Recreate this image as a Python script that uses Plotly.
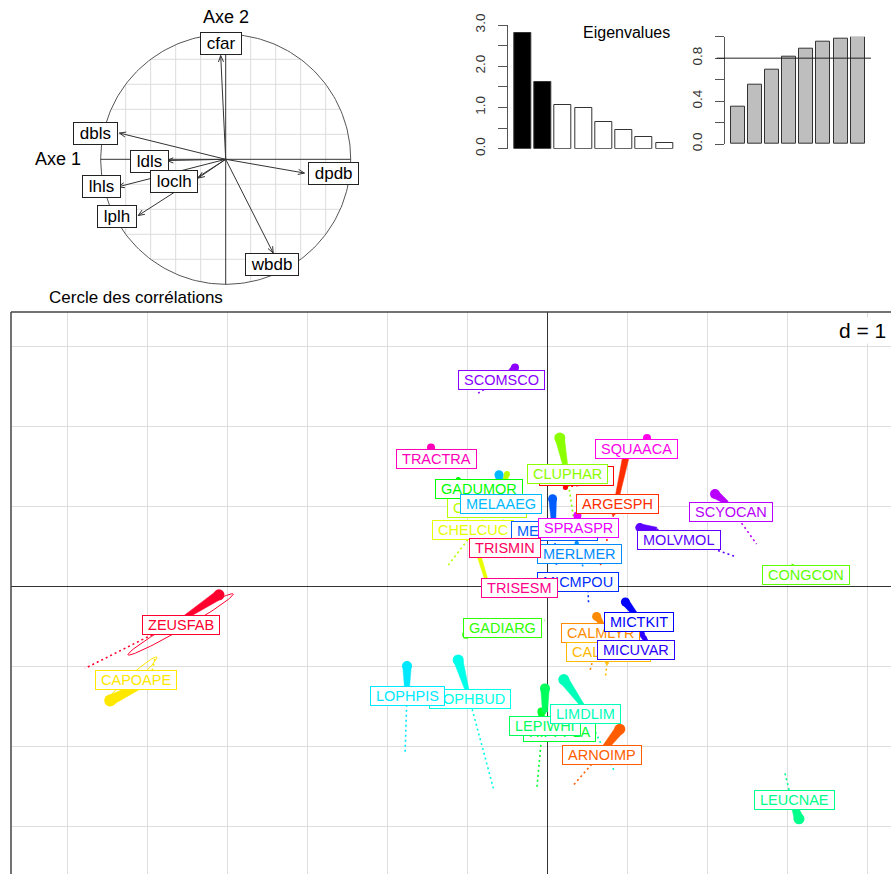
import math
import colorsys
import numpy as np
import plotly.graph_objects as go

W, H = 891, 874

# ---------------- correlation circle (variables) ----------------
var_names = ["cfar", "dbls", "ldls", "loclh", "lhls", "lplh", "dpdb", "wbdb"]
var_x = [-0.04, -0.85, -0.47, -0.22, -0.86, -0.70, 0.63, 0.38]
var_y = [0.83, 0.21, -0.01, -0.15, -0.22, -0.45, -0.11, -0.75]
var_lab_x = [-0.04, -1.04, -0.61, -0.41, -0.99, -0.87, 0.86, 0.37]
var_lab_y = [0.93, 0.21, -0.02, -0.18, -0.22, -0.46, -0.11, -0.84]

# ---------------- eigenvalues ----------------
eigenvalues = [2.80, 1.62, 1.07, 0.98, 0.64, 0.46, 0.29, 0.14]
cum_inertia = [0.35, 0.55, 0.69, 0.81, 0.89, 0.95, 0.98, 1.00]
n_kept = 2

# ---------------- species trajectories on the factorial plane ----------------
species = ["ARGESIL", "ARGESPH", "ARNOIMP", "CALMLYR", "CALMMAC", "CAPOAPE",
           "CHELCUC", "CHELLUC", "CLUPHAR", "CONGCON", "GADIARG", "GADUMOR",
           "HIPPPLA", "LEPIWHI", "LEUCNAE", "LIMDLIM", "LOPHBUD", "LOPHPIS",
           "MELAAEG", "MERLMER", "MERNMER", "MICMPOU", "MICTKIT", "MICUVAR",
           "MOLVMOL", "SCOMSCO", "SCYOCAN", "SPRASPR", "SQUAACA", "TRACTRA",
           "TRISESM", "TRISMIN", "ZEUSFAB"]
head_x = [0.23, 1.00, 0.91, 0.62, 0.75, -5.46, -0.89, -0.50, 0.16, 3.07, -1.01, -1.11,
          -0.07, -0.025, 3.15, 0.21, -1.11, -1.75, -0.60, 0.37, 0.07, 0.51, 0.98, 1.175,
          1.16, -0.40, 2.10, 0.38, 1.25, -1.45, -0.40, -0.59, -4.10]
head_y = [1.23, 1.68, -1.79, -0.38, -0.83, -1.43, 0.51, 1.40, 1.85, 0.26, -0.61, 1.33,
          -1.57, -1.28, -2.91, -1.17, -0.925, -1.00, 1.39, 0.54, 1.09, 0.075, -0.20, -0.59,
          0.73, 2.73, 1.15, 0.88, 1.85, 1.73, 0.01, 0.51, -0.11]
neck_x = [0.24, 0.83, 0.60, 0.69, 0.75, -4.96, -0.75, -0.61, 0.24, 3.07, -0.96, -1.025,
          -0.06, -0.025, 3.04, 0.44, -1.00, -1.75, -0.575, 0.39, 0.08, 0.51, 1.10, 1.24,
          1.37, -0.525, 2.25, 0.39, 1.225, -1.39, -0.36, -0.55, -4.60]
neck_y = [1.24, 0.89, -2.18, -0.48, -0.97, -1.18, 0.05, 1.075, 1.45, 0.255, -0.59, 1.26,
          -1.80, -1.575, -2.61, -1.49, -1.30, -1.36, 1.14, 0.45, 0.85, 0.01, -0.35, -0.69,
          0.71, 2.625, 1.04, 0.80, 1.75, 1.60, -0.01, 0.49, -0.44]
tail_x = [0.75, 0.66, 0.33, 0.54, 0.73, -4.90, -0.725, -1.25, 0.33, 3.075, -0.03, -0.86,
          -0.125, -0.025, 2.975, 0.84, -0.67, -1.775, -0.55, 0.45, 0.12, 0.52, 1.25, 1.16,
          2.35, -0.86, 2.62, 0.39, 1.20, -1.325, -0.275, -0.46, -5.775]
tail_y = [1.30, 0.23, -2.49, -1.05, -1.14, -0.90, -0.05, 0.24, 0.87, 0.24, -0.43, 1.175,
          -2.51, -1.70, -2.34, -2.31, -2.53, -2.11, 0.825, 0.24, 0.24, -0.22, -0.675, -0.825,
          0.37, 2.41, 0.525, 0.70, 1.625, 1.44, -0.05, 0.425, -1.03]
label_x = [0.37, 0.875, 0.69, 0.67, 0.77, -5.14, -0.93, -0.75, 0.25, 3.24, -0.56, -0.85,
           0.15, -0.02, 3.09, 0.48, -0.96, -1.75, -0.57, 0.41, 0.09, 0.39, 1.15, 1.11,
           1.65, -0.57, 2.30, 0.39, 1.12, -1.385, -0.34, -0.525, -4.58]
label_y = [1.37, 1.02, -2.11, -0.585, -0.83, -1.17, 0.70, 0.97, 1.40, 0.14, -0.53, 1.215,
           -1.83, -1.75, -2.68, -1.60, -1.41, -1.38, 1.03, 0.40, 0.69, 0.05, -0.45, -0.80,
           0.57, 2.575, 0.925, 0.73, 1.715, 1.585, -0.02, 0.48, -0.49]
# marker diameter at the head and width of the trail where it thins out (pixels)
head_size = [5, 8, 11, 9, 5, 12, 5, 6, 11, 3, 8, 5, 8, 10, 11, 11, 11, 10, 9, 4, 9, 4,
             9, 6, 9, 8, 10, 8, 8, 8, 4, 4, 11]
neck_width = [2, 3, 4, 4, 3, 5, 3, 2, 4, 1, 2, 2, 3, 5, 3, 4, 4, 4, 3, 2, 5, 2,
              5, 4, 4, 2, 4, 3, 3, 2, 2, 2, 3]

# dispersion ellipses
ell_species = ["ZEUSFAB", "CAPOAPE"]
ell_cx = [-4.58, -5.19]
ell_cy = [-0.48, -1.17]
ell_a = [0.76, 0.42]
ell_b = [0.06, 0.05]
ell_angle = [30, 42]

# rainbow palette, one hue per species in alphabetical order
n_sp = len(species)
colors = []
for i in range(n_sp):
    r, g, b = colorsys.hsv_to_rgb(i / n_sp, 1, 1)
    colors.append("#%02X%02X%02X" % (round(r * 255), round(g * 255), round(b * 255)))

FONT = "Liberation Sans, Arial, sans-serif"

# ---------------- layout geometry ----------------
main_left, main_top = 11, 312
main_xrange = [-6.7, 4.3]
main_yrange = [-3.6, 3.425]
px_per_unit = (W - main_left) / (main_xrange[1] - main_xrange[0])


def pxx(p):
    return p / W


def pxy(p):
    return 1 - p / H


fig = go.Figure()

# ----- main plane: trails, heads -----
for i, name in enumerate(species):
    col = colors[i]
    hx, hy = head_x[i], head_y[i]
    nx_, ny_ = neck_x[i], neck_y[i]
    dx, dy = nx_ - hx, ny_ - hy
    L = math.hypot(dx, dy)
    if L > 1e-9:
        ux, uy = -dy / L, dx / L
        rh = head_size[i] / 2 / px_per_unit * 0.85
        rn = neck_width[i] / 2 / px_per_unit
        xs = [hx + ux * rh, nx_ + ux * rn, nx_ - ux * rn, hx - ux * rh, hx + ux * rh]
        ys = [hy + uy * rh, ny_ + uy * rn, ny_ - uy * rn, hy - uy * rh, hy + uy * rh]
        fig.add_trace(go.Scatter(x=xs, y=ys, mode="lines", fill="toself", fillcolor=col,
                                 line=dict(width=0.5, color=col), hoverinfo="skip",
                                 showlegend=False, xaxis="x", yaxis="y"))
    fig.add_trace(go.Scatter(x=[nx_, tail_x[i]], y=[ny_, tail_y[i]], mode="lines",
                             line=dict(color=col, width=1.6, dash="2px,3px"),
                             hoverinfo="skip", showlegend=False, xaxis="x", yaxis="y"))
    fig.add_trace(go.Scatter(x=[hx], y=[hy], mode="markers",
                             marker=dict(size=head_size[i], color=col, line=dict(width=0)),
                             hoverinfo="skip", showlegend=False, xaxis="x", yaxis="y"))

# ----- ellipses -----
t = np.linspace(0, 2 * np.pi, 120)
for j, name in enumerate(ell_species):
    col = colors[species.index(name)]
    th = math.radians(ell_angle[j])
    ex = ell_cx[j] + ell_a[j] * np.cos(t) * math.cos(th) - ell_b[j] * np.sin(t) * math.sin(th)
    ey = ell_cy[j] + ell_a[j] * np.cos(t) * math.sin(th) + ell_b[j] * np.sin(t) * math.cos(th)
    fig.add_trace(go.Scatter(x=ex, y=ey, mode="lines", line=dict(color=col, width=1),
                             hoverinfo="skip", showlegend=False, xaxis="x", yaxis="y"))

annotations = []
for i, name in enumerate(species):
    annotations.append(dict(
        x=label_x[i], y=label_y[i], xref="x", yref="y", showarrow=False,
        text="\u00a0" + name + "\u00a0", font=dict(family=FONT, size=14.5, color=colors[i]),
        bgcolor="white", bordercolor=colors[i], borderwidth=1, borderpad=1,
        xanchor="center", yanchor="middle"))

annotations.append(dict(
    x=0.997, y=0.967, xref="x domain", yref="y domain", showarrow=False, text="d = 1",
    font=dict(family=FONT, size=21, color="black"), bgcolor="white",
    xanchor="right", yanchor="middle"))

# ----- correlation circle -----
circ_t = np.linspace(0, 2 * np.pi, 240)
grid_x, grid_y = [], []
for k in [-0.8, -0.6, -0.4, -0.2, 0.2, 0.4, 0.6, 0.8]:
    h = math.sqrt(1 - k * k)
    grid_x += [k, k, None, -h, h, None]
    grid_y += [-h, h, None, k, k, None]
fig.add_trace(go.Scatter(x=grid_x, y=grid_y, mode="lines",
                         line=dict(color="#DCDCDC", width=1), hoverinfo="skip",
                         showlegend=False, xaxis="x2", yaxis="y2"))
fig.add_trace(go.Scatter(x=np.cos(circ_t), y=np.sin(circ_t), mode="lines",
                         line=dict(color="#555555", width=1), hoverinfo="skip",
                         showlegend=False, xaxis="x2", yaxis="y2"))
fig.add_trace(go.Scatter(x=[-1, 1, None, 0, 0], y=[0, 0, None, -1, 1], mode="lines",
                         line=dict(color="#333333", width=1), hoverinfo="skip",
                         showlegend=False, xaxis="x2", yaxis="y2"))

arr_x, arr_y = [], []
head_len = 0.055
head_ang = math.radians(22)
for vx, vy in zip(var_x, var_y):
    arr_x += [0, vx, None]
    arr_y += [0, vy, None]
    ang = math.atan2(vy, vx)
    for s in (1, -1):
        a = ang + math.pi + s * head_ang
        arr_x += [vx, vx + head_len * math.cos(a), None]
        arr_y += [vy, vy + head_len * math.sin(a), None]
fig.add_trace(go.Scatter(x=arr_x, y=arr_y, mode="lines",
                         line=dict(color="#333333", width=1), hoverinfo="skip",
                         showlegend=False, xaxis="x2", yaxis="y2"))

for name, lx, ly in zip(var_names, var_lab_x, var_lab_y):
    annotations.append(dict(
        x=lx, y=ly, xref="x2", yref="y2", showarrow=False, text="\u00a0" + name + "\u00a0",
        font=dict(family=FONT, size=17, color="black"), bgcolor="white",
        bordercolor="#222222", borderwidth=1, borderpad=1,
        xanchor="center", yanchor="middle"))

annotations += [
    dict(x=-1.34, y=0.0, xref="x2", yref="y2", showarrow=False, text="Axe 1",
         font=dict(family=FONT, size=18, color="black"), xanchor="center", yanchor="middle"),
    dict(x=0.0, y=1.14, xref="x2", yref="y2", showarrow=False, text="Axe 2",
         font=dict(family=FONT, size=18, color="black"), xanchor="center", yanchor="middle"),
    dict(x=-0.72, y=-1.107, xref="x2", yref="y2", showarrow=False,
         text="Cercle des corrélations",
         font=dict(family=FONT, size=17, color="black"), xanchor="center", yanchor="middle"),
]

# ----- eigenvalue bar charts -----
ranks = list(range(1, len(eigenvalues) + 1))
fig.add_trace(go.Bar(x=ranks, y=eigenvalues, width=0.84,
                     marker=dict(color=["black" if r <= n_kept else "white" for r in ranks],
                                 line=dict(color="#333333", width=1)),
                     hoverinfo="skip", showlegend=False, xaxis="x3", yaxis="y3"))
fig.add_trace(go.Bar(x=ranks, y=cum_inertia, width=0.82,
                     marker=dict(color="#BEBEBE", line=dict(color="#333333", width=1)),
                     hoverinfo="skip", showlegend=False, xaxis="x4", yaxis="y4"))

annotations.append(dict(
    x=pxx(672), y=pxy(32.3), xref="paper", yref="paper", showarrow=False,
    text="Eigenvalues", font=dict(family=FONT, size=16, color="black"),
    xanchor="right", yanchor="middle"))

shapes = [
    # frame of the main plane (left and top edges)
    dict(type="line", xref="x domain", yref="y domain", x0=0, x1=1, y0=1, y1=1,
         line=dict(color="#444444", width=1.5), layer="above"),
    dict(type="line", xref="x domain", yref="y domain", x0=0, x1=0, y0=0, y1=1,
         line=dict(color="#444444", width=1.5), layer="above"),
    # 80 % reference line on cumulative inertia
    dict(type="line", xref="paper", yref="y4", x0=pxx(716.7), x1=pxx(871), y0=0.8, y1=0.8,
         line=dict(color="#222222", width=1), layer="above"),
]

eig_ticks = [0, 0.5, 1, 1.5, 2, 2.5, 3]
eig_text = ["0.0", "", "1.0", "", "2.0", "", "3.0"]
cum_ticks = [0, 0.2, 0.4, 0.6, 0.8, 1.0]
cum_text = ["0.0", "", "0.4", "", "0.8", ""]

bar_yaxis = dict(showline=True, linecolor="#555555", linewidth=1, ticks="outside",
                 ticklen=9, tickcolor="#555555", tickangle=-90, showgrid=False,
                 zeroline=False, tickfont=dict(family=FONT, size=13.5, color="#333333"),
                 ticklabelstandoff=8, tickmode="array", automargin=False)

fig.update_layout(
    width=W, height=H, margin=dict(l=0, r=0, t=0, b=0, pad=0, autoexpand=False),
    paper_bgcolor="white", plot_bgcolor="white", showlegend=False, hovermode=False,
    bargap=0,
    xaxis=dict(domain=[pxx(main_left), 1], range=main_xrange, tick0=0, dtick=1,
               showgrid=True, gridcolor="#DEDEDE", gridwidth=1, zeroline=True,
               zerolinecolor="#333333", zerolinewidth=1, showticklabels=False,
               ticks="", showline=False, anchor="y", automargin=False),
    yaxis=dict(domain=[0, pxy(main_top)], range=main_yrange, tick0=0, dtick=1,
               showgrid=True, gridcolor="#DEDEDE", gridwidth=1, zeroline=True,
               zerolinecolor="#333333", zerolinewidth=1, showticklabels=False,
               ticks="", showline=False, anchor="x", automargin=False),
    xaxis2=dict(domain=[pxx(25.7), pxx(425.7)], range=[-1.6, 1.6], visible=False, anchor="y2"),
    yaxis2=dict(domain=[pxy(309.3), pxy(9.3)], range=[-1.2, 1.2], visible=False, anchor="x2"),
    xaxis3=dict(domain=[pxx(508.3), pxx(678.7)], range=[0.3, 8.7], visible=False, anchor="y3"),
    yaxis3=dict(domain=[pxy(148.7), pxy(25)], range=[0, 3], anchor="x3",
                tickvals=eig_ticks, ticktext=eig_text, **bar_yaxis),
    xaxis4=dict(domain=[pxx(725), pxx(871)], range=[0.259, 8.776], visible=False, anchor="y4"),
    yaxis4=dict(domain=[pxy(144), pxy(36.7)], range=[0, 1], anchor="x4",
                tickvals=cum_ticks, ticktext=cum_text, **bar_yaxis),
    annotations=annotations,
    shapes=shapes,
)

fig.write_html("out.html")
